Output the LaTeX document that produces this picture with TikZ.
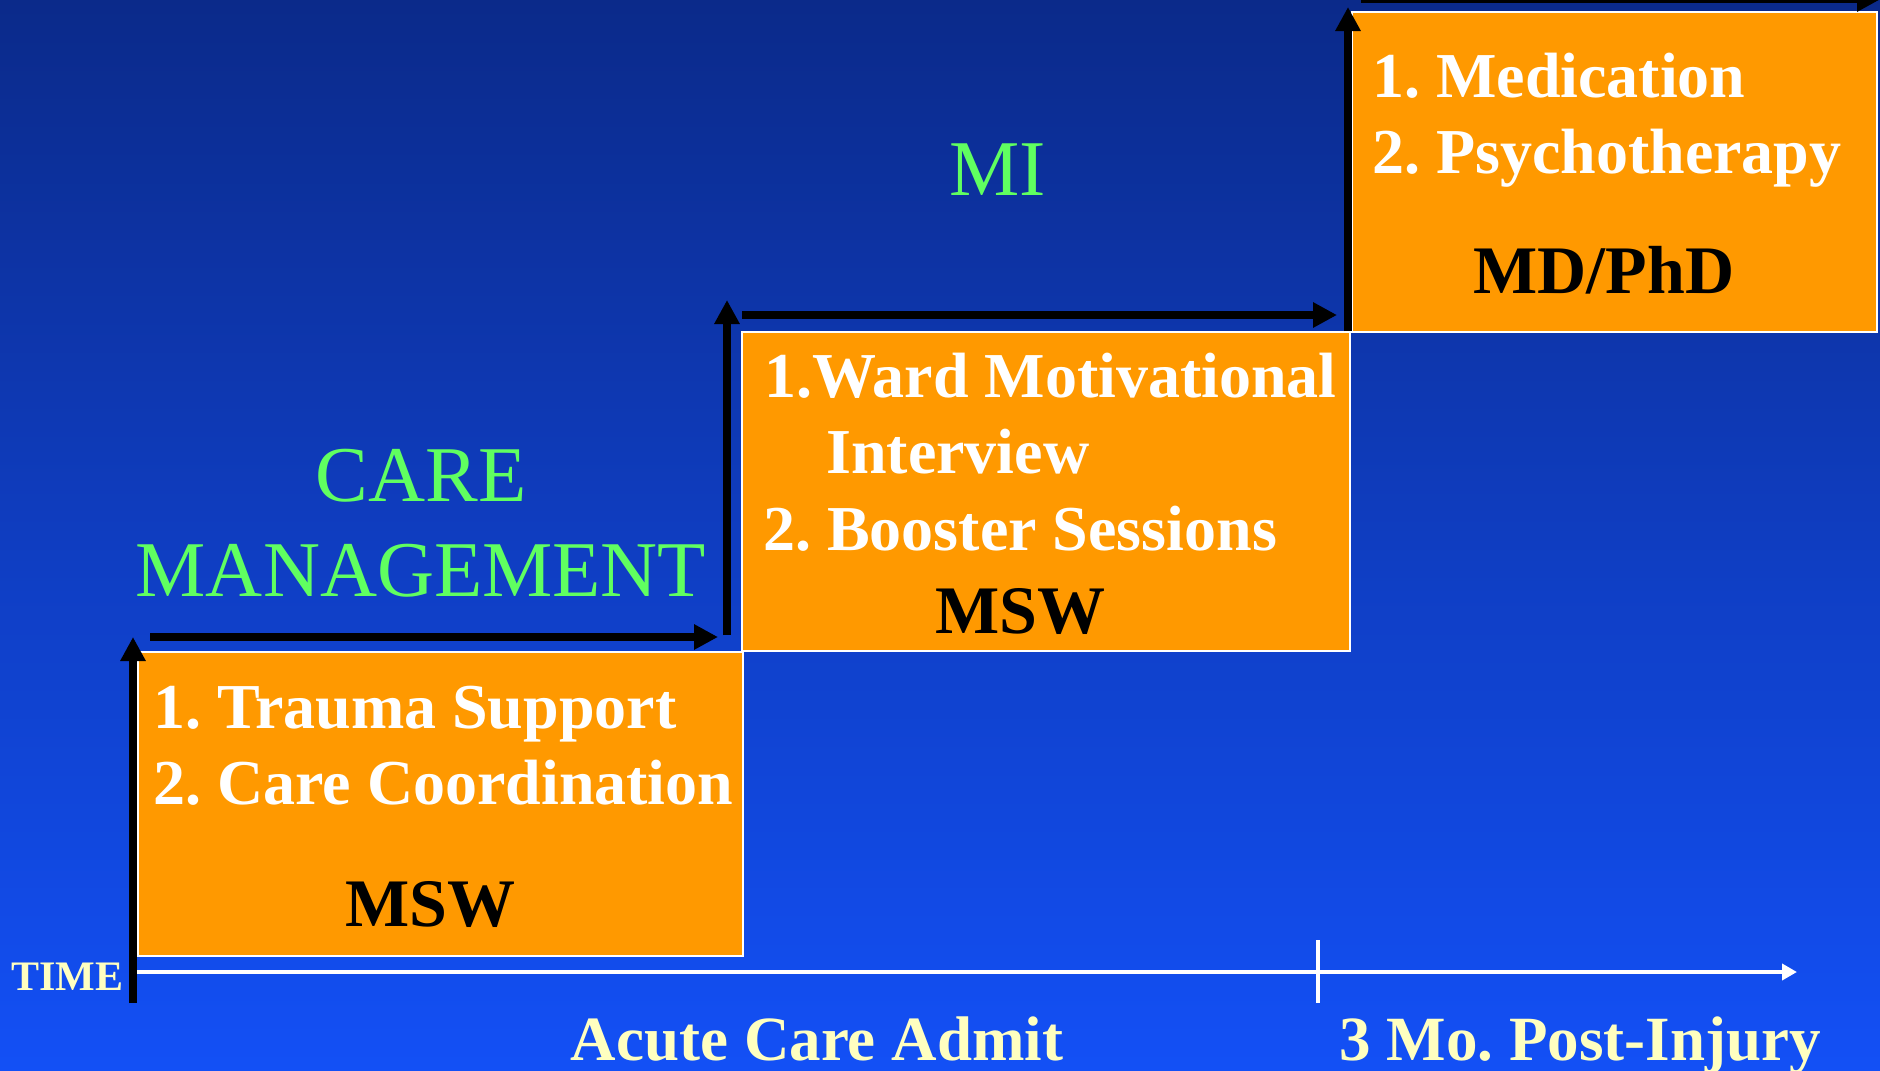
\documentclass[tikz,border=0pt]{standalone}
\usepackage{fontspec}
\setmainfont{Liberation Serif}
\usetikzlibrary{arrows.meta}
\definecolor{bgtop}{RGB}{11,42,138}
\definecolor{bgbot}{RGB}{19,80,246}
\definecolor{boxorange}{RGB}{255,153,0}
\definecolor{phasegreen}{RGB}{96,255,96}
\definecolor{cream}{RGB}{255,255,192}
\frenchspacing
\begin{document}
\begin{tikzpicture}[x=1pt,y=-1pt,
  box/.style={draw=white,line width=2pt,fill=boxorange,anchor=north west,inner sep=0pt,outer sep=0pt},
  item/.style={anchor=base west,inner sep=0pt,text=white,font=\fontsize{64}{70}\selectfont\bfseries},
  role/.style={anchor=base,inner sep=0pt,text=black,font=\fontsize{68}{74}\selectfont\bfseries},
  phase/.style={anchor=base,inner sep=0pt,text=phasegreen,font=\fontsize{79}{90}\selectfont},
  timelabel/.style={anchor=base,inner sep=0pt,text=cream,font=\fontsize{63}{70}\selectfont\bfseries},
  stepline/.style={line width=8pt,-{Triangle[length=24pt,width=24pt]}},
  axisline/.style={draw=white,line width=4pt,-{Triangle[length=15pt,width=16pt]}}]
\useasboundingbox (0,0) rectangle (1880,1071);
\shade[top color=bgtop,bottom color=bgbot] (0,0) rectangle (1880,1071);

% boxes
\node[box,minimum width=605pt,minimum height=304pt] (b1) at (138,652) {};
\node[box,minimum width=608pt,minimum height=319pt] (b2) at (742,332) {};
\node[box,minimum width=525pt,minimum height=320pt] (b3) at (1352,12) {};

% step arrows
\coordinate (a1s) at (133,1003);
\coordinate (a1e) at (133,637);
\coordinate (h1s) at (150,637);
\coordinate (h1e) at (718,637);
\coordinate (a2s) at (727,635);
\coordinate (a2e) at (727,300);
\coordinate (h2s) at (742,315);
\coordinate (h2e) at (1337,315);
\coordinate (a3s) at (1348,331);
\coordinate (a3e) at (1348,7);
\coordinate (h3s) at (1361,-1);
\coordinate (h3e) at (1881,-1);
\draw[stepline] (a1s) -- (a1e);
\draw[stepline] (h1s) -- (h1e);
\draw[stepline] (a2s) -- (a2e);
\draw[stepline] (h2s) -- (h2e);
\draw[stepline] (a3s) -- (a3e);
\draw[stepline] (h3s) -- (h3e);

% time axis
\coordinate (ax0) at (137,972);
\coordinate (ax1) at (1797,972);
\coordinate (tk0) at (1318,940);
\coordinate (tk1) at (1318,1003);
\draw[axisline] (ax0) -- (ax1);
\draw[white,line width=4pt] (tk0) -- (tk1);

% box texts
\node[item] (t1a) at (153,728) {1. Trauma Support};
\node[item] (t1b) at (153,804) {2. Care Coordination};
\node[role] (r1) at (430,926) {MSW};
\node[item] (t2a) at (764,397) {1.Ward Motivational};
\node[item] (t2b) at (826,473) {Interview};
\node[item] (t2c) at (763,550) {2. Booster Sessions};
\node[role] (r2) at (1020,633) {MSW};
\node[item] (t3a) at (1372,97) {1. Medication};
\node[item] (t3b) at (1372,173) {2. Psychotherapy};
\node[role] (r3) at (1604,293) {MD/PhD};

% phase labels
\node[phase] (p1a) at (421,501) {CARE};
\node[phase] (p1b) at (421,596) {MANAGEMENT};
\node[phase] (p2) at (998,195) {MI};

% time labels
\node[timelabel] (l1) at (817,1060) {Acute Care Admit};
\node[timelabel] (l2) at (1580,1060) {3 Mo. Post-Injury};
\node[anchor=base west,inner sep=0pt,text=cream,font=\fontsize{42}{46}\selectfont\bfseries] (tl) at (11,990) {TIME};
\end{tikzpicture}
\end{document}
